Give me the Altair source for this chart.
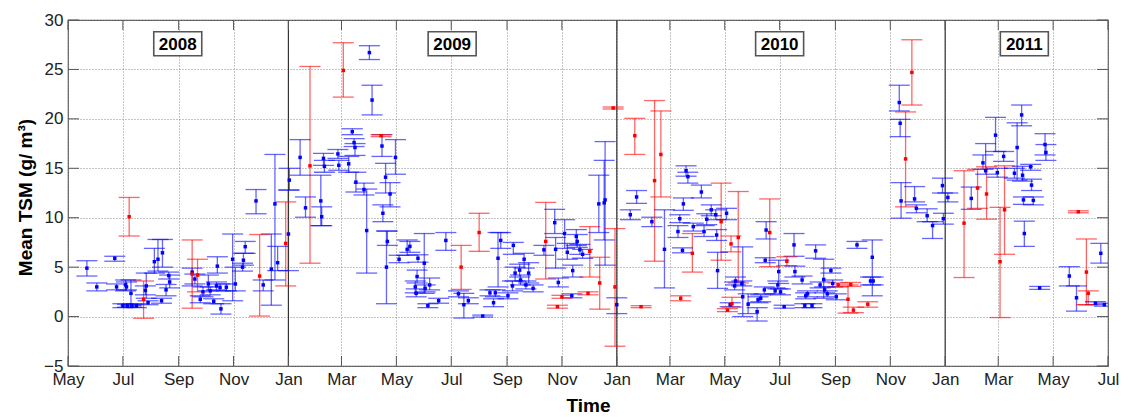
import altair as alt
import pandas as pd

# Blue series: sampling date, mean TSM (g/m3) and lower / upper error limits
blue_dates = [
    "2008-05-22", "2008-06-02", "2008-06-22", "2008-06-24", "2008-07-01", "2008-07-04",
    "2008-07-05", "2008-07-06", "2008-07-10", "2008-07-11", "2008-07-16", "2008-07-26",
    "2008-07-27", "2008-07-29", "2008-08-05", "2008-08-09", "2008-08-13", "2008-08-14",
    "2008-08-18", "2008-08-21", "2008-08-22", "2008-09-16", "2008-09-19", "2008-09-25",
    "2008-09-28", "2008-10-04", "2008-10-06", "2008-10-10", "2008-10-13", "2008-10-14",
    "2008-10-17", "2008-10-18", "2008-10-24", "2008-10-31", "2008-11-03", "2008-11-11",
    "2008-11-12", "2008-11-14", "2008-11-26", "2008-12-04", "2008-12-13", "2008-12-17",
    "2008-12-20", "2009-01-01", "2009-01-02", "2009-01-14", "2009-01-20", "2009-02-06",
    "2009-02-07", "2009-02-09", "2009-02-10", "2009-02-25", "2009-02-26", "2009-03-09",
    "2009-03-13", "2009-03-15", "2009-03-16", "2009-03-17", "2009-03-26", "2009-03-29",
    "2009-04-01", "2009-04-04", "2009-04-15", "2009-04-16", "2009-04-19", "2009-04-20",
    "2009-04-21", "2009-04-24", "2009-04-30", "2009-05-04", "2009-05-13", "2009-05-16",
    "2009-05-22", "2009-05-23", "2009-05-24", "2009-05-25", "2009-06-01", "2009-06-02",
    "2009-06-05", "2009-06-07", "2009-06-17", "2009-06-25", "2009-07-09", "2009-07-15",
    "2009-07-20", "2009-08-05", "2009-08-13", "2009-08-17", "2009-08-19", "2009-08-22",
    "2009-08-25", "2009-09-02", "2009-09-07", "2009-09-08", "2009-09-10", "2009-09-15",
    "2009-09-16", "2009-09-20", "2009-09-22", "2009-09-25", "2009-09-30", "2009-10-12",
    "2009-10-24", "2009-10-25", "2009-10-28", "2009-11-04", "2009-11-07", "2009-11-12",
    "2009-11-13", "2009-11-17", "2009-11-18", "2009-11-21", "2009-11-24", "2009-12-12",
    "2009-12-18", "2009-12-19", "2010-01-01", "2010-01-16", "2010-01-23", "2010-02-09",
    "2010-02-23", "2010-03-10", "2010-03-12", "2010-03-15", "2010-03-16", "2010-03-19",
    "2010-03-21", "2010-03-27", "2010-04-05", "2010-04-08", "2010-04-11", "2010-04-16",
    "2010-04-21", "2010-04-22", "2010-04-23", "2010-05-03", "2010-05-07", "2010-05-12",
    "2010-05-13", "2010-05-20", "2010-05-21", "2010-05-27", "2010-06-06", "2010-06-07",
    "2010-06-10", "2010-06-14", "2010-06-15", "2010-06-16", "2010-06-26", "2010-06-29",
    "2010-06-30", "2010-07-02", "2010-07-06", "2010-07-17", "2010-07-18", "2010-07-26",
    "2010-07-29", "2010-07-30", "2010-08-01", "2010-08-06", "2010-08-10", "2010-08-15",
    "2010-08-19", "2010-08-20", "2010-08-23", "2010-08-27", "2010-08-29", "2010-09-02",
    "2010-09-25", "2010-10-10", "2010-10-12", "2010-10-13", "2010-11-11", "2010-11-12",
    "2010-11-13", "2010-11-28", "2010-11-30", "2010-12-12", "2010-12-18", "2010-12-29",
    "2010-12-30", "2011-01-04", "2011-01-30", "2011-02-12", "2011-02-15", "2011-02-26",
    "2011-02-28", "2011-03-07", "2011-03-19", "2011-03-22", "2011-03-27", "2011-03-28",
    "2011-03-29", "2011-03-30", "2011-04-06", "2011-04-07", "2011-04-09", "2011-04-16",
    "2011-04-22", "2011-04-23", "2011-05-19", "2011-05-27", "2011-06-17", "2011-06-23",
    "2011-06-27",
]
blue_tsm = [
    4.9, 3.0, 5.9, 3.0, 1.1, 3.2,
    3.0, 1.1, 2.35, 1.1, 1.1, 2.65,
    3.1, 1.4, 5.55, 5.8, 1.6, 6.45,
    2.7, 4.15, 3.5, 4.5, 3.8, 1.75,
    2.5, 3.3, 2.6, 1.55, 3.1, 5.1,
    2.95, 0.78, 2.97, 5.8, 3.3, 5.0,
    5.7, 7.07, 11.7, 3.2, 4.8, 11.4,
    5.45, 8.35, 13.8, 16.1, 11.0, 11.7,
    10.1, 16.0, 15.2, 16.45, 15.3, 15.45,
    18.7, 17.6, 17.1, 13.6, 12.85, 8.7,
    26.7, 21.9, 17.25, 10.45, 14.1, 5.0,
    7.6, 12.4, 16.1, 5.8, 6.8, 7.1,
    3.0, 2.35, 4.05, 5.9, 5.4, 2.85,
    1.1, 3.2, 1.6, 7.7, 2.3, 1.2,
    1.6, 0.05, 2.4, 1.4, 2.4, 5.9,
    7.7, 2.1, 3.1, 7.2, 4.4, 4.7,
    3.7, 5.8, 3.2, 4.4, 2.85, 6.75,
    9.5, 6.8, 3.45, 8.4, 6.5, 2.1,
    4.65, 8.1, 7.6, 6.75, 6.3, 11.4,
    11.5, 11.8, 1.2, 10.3, 12.1, 9.6,
    6.8, 8.6, 9.9, 6.7, 11.4, 14.75,
    14.15, 9.1, 12.6, 8.6, 9.85, 10.8,
    10.3, 8.25, 4.65, 10.45, 1.2, 3.1,
    3.6, 3.35, 2.0, 1.25, 0.5, 1.7,
    1.85, 2.7, 5.7, 8.75, 2.6, 3.2,
    4.55, 2.5, 1.0, 7.25, 4.55, 3.7,
    1.1, 2.1, 2.3, 1.1, 6.65, 3.2,
    3.75, 2.7, 2.3, 4.65, 3.35, 2.0,
    7.25, 3.6, 6.0, 3.6, 21.65, 19.55,
    11.7, 11.9, 10.95, 10.2, 9.2, 13.25,
    9.9, 12.05, 11.95, 15.55, 14.75, 18.35,
    14.55, 16.2, 14.5, 17.1, 20.4, 14.3,
    11.8, 8.4, 15.15, 13.3, 11.75, 2.9,
    17.4, 16.6, 4.1, 1.9, 1.35, 6.4,
    1.2,
]
blue_lo = [
    4.1, 2.6, 5.6, 2.7, 0.9, 2.6,
    2.7, 0.95, 1.1, 0.95, 0.9, 2.2,
    1.85, 1.2, 4.4, 4.6, 1.35, 5.0,
    2.1, 3.8, 2.9, 3.1, 3.3, 1.4,
    2.0, 2.6, 2.2, 1.3, 2.7, 4.4,
    2.6, 0.25, 2.6, 1.6, 2.6, 4.6,
    5.2, 6.4, 10.4, 2.6, 1.15, 3.7,
    4.65, 4.65, 12.8, 14.3, 10.05, 9.2,
    9.2, 15.3, 14.6, 16.0, 14.8, 14.6,
    18.4, 17.2, 16.3, 12.6, 12.3, 4.4,
    26.0, 20.4, 16.2, 9.6, 12.5, 1.3,
    7.2, 11.1, 14.4, 5.45, 6.2, 6.5,
    2.4, 2.0, 3.4, 5.5, 2.35, 2.5,
    0.9, 2.7, 1.35, 6.7, 2.0, -0.15,
    1.3, -0.05, 2.1, 1.0, 2.0, 3.0,
    6.9, 1.8, 2.6, 6.3, 3.6, 4.0,
    3.2, 4.9, 2.8, 3.4, 2.5, 6.2,
    8.4, 4.9, 3.0, 6.9, 5.8, 1.9,
    4.0, 7.2, 7.0, 6.3, 5.9, 8.5,
    7.75, 5.2, 0.3, 9.8, 11.45, 9.1,
    2.9, 8.0, 9.5, 6.45, 10.75, 14.2,
    13.5, 8.65, 12.0, 8.1, 9.3, 10.2,
    9.8, 7.7, 2.85, 9.8, 1.0, 2.7,
    3.2, 3.1, 0.0, 0.3, -0.45, 1.4,
    1.5, 2.3, 5.45, 7.85, 2.3, 2.8,
    3.35, 2.2, 0.85, 6.1, 4.0, 3.3,
    0.9, 1.8, 2.0, 0.9, 5.9, 2.9,
    1.85, 2.4, 2.0, 4.4, 3.0, 1.7,
    6.9, 3.2, 2.1, 3.2, 20.8, 18.2,
    9.95, 11.6, 10.5, 9.6, 7.9, 12.5,
    9.35, 11.6, 10.85, 14.9, 14.4, 16.7,
    14.1, 15.7, 14.0, 13.8, 19.3, 13.7,
    11.35, 7.1, 14.8, 12.75, 11.3, 2.75,
    16.35, 15.8, 3.1, 0.55, 1.2, 5.4,
    1.05,
]
blue_hi = [
    5.65, 3.4, 6.1, 3.3, 1.3, 3.7,
    3.5, 1.25, 3.7, 1.25, 1.3, 3.1,
    4.4, 1.6, 6.9, 7.8, 1.85, 7.8,
    3.25, 4.5, 4.2, 4.9, 4.3, 2.1,
    3.0, 4.2, 3.0, 1.8, 3.5, 6.05,
    3.3, 1.3, 3.3, 8.35, 5.0, 5.4,
    6.4, 7.6, 12.85, 3.7, 8.35, 16.4,
    7.1, 12.8, 15.0, 17.9, 12.1, 14.3,
    11.1, 16.5, 15.8, 16.9, 15.8, 16.2,
    19.0, 18.0, 17.5, 14.6, 13.5, 12.9,
    27.4, 23.4, 18.4, 11.3, 15.5, 8.65,
    8.65, 13.55, 17.9, 6.2, 7.75, 7.6,
    3.6, 2.8, 4.7, 6.25, 8.4, 3.2,
    1.3, 3.9, 1.85, 8.5, 2.6, 2.35,
    1.9, 0.15, 2.7, 1.8, 2.7, 8.5,
    8.5, 2.4, 3.6, 7.5, 5.0, 5.3,
    4.2, 6.4, 3.6, 5.45, 3.2, 7.2,
    10.85, 8.0, 3.9, 9.8, 7.4, 2.3,
    5.2, 8.8, 8.3, 7.3, 6.8, 14.3,
    15.8, 17.7, 1.9, 10.8, 12.75, 10.05,
    10.8, 9.2, 10.3, 6.95, 12.0, 15.25,
    14.6, 9.45, 13.3, 9.2, 10.4, 11.3,
    10.8, 8.8, 6.5, 10.95, 1.4, 3.5,
    4.0, 3.6, 7.05, 2.3, 0.9, 2.0,
    2.2, 3.0, 5.95, 9.6, 2.9, 3.6,
    5.7, 2.8, 1.15, 8.4, 5.1, 4.1,
    1.3, 2.4, 2.6, 1.3, 7.25, 3.5,
    5.8, 3.0, 2.6, 4.9, 3.7, 2.3,
    7.6, 4.0, 7.75, 4.0, 23.4, 19.95,
    13.55, 13.15, 11.3, 10.9, 9.6, 14.0,
    10.45, 12.5, 13.1, 16.35, 17.5, 20.15,
    15.0, 16.7, 15.0, 19.6, 21.4, 15.2,
    12.1, 9.65, 15.4, 13.9, 12.1, 3.05,
    18.5, 17.4, 5.05, 3.1, 1.5, 7.4,
    1.35,
]

# Red series
red_dates = [
    "2008-07-08", "2008-07-24", "2008-09-16", "2008-09-22", "2008-11-30", "2008-12-29",
    "2009-01-25", "2009-03-03", "2009-04-14", "2009-07-12", "2009-08-01", "2009-10-14",
    "2009-10-27", "2009-11-01", "2009-11-30", "2009-12-02", "2009-12-13", "2009-12-28",
    "2009-12-30", "2010-01-21", "2010-01-28", "2010-02-12", "2010-02-19", "2010-03-13",
    "2010-03-26", "2010-04-27", "2010-05-04", "2010-05-08", "2010-05-09", "2010-05-16",
    "2010-06-20", "2010-07-09", "2010-09-04", "2010-09-15", "2010-09-18", "2010-09-21",
    "2010-10-07", "2010-11-18", "2010-11-25", "2011-01-22", "2011-02-06", "2011-02-16",
    "2011-03-03", "2011-03-08", "2011-05-29", "2011-06-07", "2011-06-09",
]
red_tsm = [
    10.1, 1.75, 4.3, 4.2, 4.1, 7.4,
    15.25, 24.9, 18.3, 5.0, 8.5, 7.6,
    1.0, 2.0, 2.35, 6.6, 3.4, 21.1,
    3.0, 18.3, 1.0, 13.75, 16.4, 1.85,
    6.4, 9.6, 0.65, 7.35, 1.3, 8.0,
    8.5, 5.6, 3.2, 1.75, 3.25, 0.65,
    1.25, 15.95, 24.7, 9.45, 13.0, 12.4,
    5.55, 10.8, 10.6, 4.5, 2.35,
]
red_lo = [
    8.15, -0.17, 0.85, 2.5, 0.05, 3.1,
    5.4, 22.2, 18.2, 2.75, 6.6, 3.8,
    0.85, 1.85, 2.2, 4.0, 0.75, 21.0,
    -3.0, 16.4, 0.9, 5.6, 12.1, 1.6,
    4.5, 5.7, 0.5, 6.55, 0.95, 3.4,
    5.05, 5.15, 3.0, 0.35, 3.05, 0.4,
    0.95, 11.1, 21.4, 3.95, 10.95, 9.85,
    -0.1, 6.3, 10.5, 1.2, 1.2,
]
red_hi = [
    12.05, 3.6, 7.75, 5.8, 8.3, 11.6,
    25.3, 27.7, 18.4, 7.2, 10.45, 11.55,
    1.15, 2.15, 2.5, 9.1, 6.0, 21.2,
    8.9, 20.05, 1.1, 21.85, 20.8, 2.1,
    8.4, 13.5, 0.8, 8.15, 1.95, 12.65,
    11.9, 6.05, 3.4, 3.2, 3.45, 0.95,
    1.5, 20.7, 28.0, 14.75, 14.9, 15.15,
    11.05, 15.25, 10.7, 7.85, 2.6,
]

month_ticks = [
    "2008-05-01", "2008-07-01", "2008-09-01", "2008-11-01", "2009-01-01", "2009-03-01",
    "2009-05-01", "2009-07-01", "2009-09-01", "2009-11-01", "2010-01-01", "2010-03-01",
    "2010-05-01", "2010-07-01", "2010-09-01", "2010-11-01", "2011-01-01", "2011-03-01",
    "2011-05-01", "2011-07-01",
]
y_ticks = [-5, 0, 5, 10, 15, 20, 25, 30]
year_breaks = ["2009-01-01", "2010-01-01", "2011-01-01"]
year_labels = ["2008", "2009", "2010", "2011"]
year_label_dates = ["2008-08-31", "2009-07-02", "2010-07-01", "2011-03-30"]
year_label_level = [27.6, 27.6, 27.6, 27.6]

W, H = 1040, 346
FONT = "Liberation Sans"


def dt(s):
    y, m, d = (int(p) for p in s.split("-"))
    return alt.DateTime(year=y, month=m, date=d, utc=True)


obs = pd.concat([
    pd.DataFrame({"date": blue_dates, "tsm": blue_tsm, "lo": blue_lo, "hi": blue_hi, "group": "blue"}),
    pd.DataFrame({"date": red_dates, "tsm": red_tsm, "lo": red_lo, "hi": red_hi, "group": "red"}),
], ignore_index=True)

xscale = alt.Scale(type="utc", domain=[dt(month_ticks[0]), dt(month_ticks[-1])])
yscale = alt.Scale(domain=[-5, 30], nice=False, zero=False)
cscale = alt.Scale(domain=["blue", "red"], range=["#0000ff", "#ff0000"])

xaxis = alt.Axis(
    values=[dt(s) for s in month_ticks], labelExpr="utcFormat(datum.value, '%b')",
    ticks=False, domain=False, labelPadding=5, labelOverlap=False, labelFlush=False,
    grid=True, gridDash=[1, 2], gridColor="#8a8a8a", gridWidth=1,
    title="Time", titleFontSize=19, titleFontWeight="bold", titleY=30,
)
yaxis = alt.Axis(
    values=y_ticks, ticks=False, domain=False, labelPadding=5,
    grid=True, gridDash=[1, 2], gridColor="#8a8a8a", gridWidth=1,
    title="Mean TSM (g/ m³)", titleFontSize=19, titleFontWeight="bold",
    titleX=-33, titleY=177,
)

color = alt.Color("group:N", scale=cscale, legend=None)
x_enc = alt.X("date:T", scale=xscale, axis=xaxis)


def y_enc(field):
    return alt.Y(field, scale=yscale, axis=yaxis)


base = alt.Chart(obs)

bars = base.mark_rule(strokeWidth=1.3, opacity=0.6, clip=True).encode(
    x=x_enc, y=y_enc("lo:Q"), y2="hi:Q", color=color
)
caps_lo = base.mark_tick(orient="horizontal", size=21, thickness=1.3, opacity=0.6, clip=True).encode(
    x=x_enc, y=y_enc("lo:Q"), color=color
)
caps_hi = base.mark_tick(orient="horizontal", size=21, thickness=1.3, opacity=0.6, clip=True).encode(
    x=x_enc, y=y_enc("hi:Q"), color=color
)
points = base.mark_square(size=12, opacity=1).encode(
    x=x_enc, y=y_enc("tsm:Q"), color=color
)

breaks = alt.Chart(pd.DataFrame({"date": year_breaks})).mark_rule(color="#333333", strokeWidth=1.2).encode(
    x=x_enc, y=alt.value(0), y2=alt.value(H)
)

# inward-pointing ticks on all four sides
xt = alt.Chart(pd.DataFrame({"date": month_ticks}))
yt = alt.Chart(pd.DataFrame({"v": y_ticks}))
tick_col = "#555555"
ticks_bottom = xt.mark_rule(color=tick_col).encode(x=x_enc, y=alt.value(H), y2=alt.value(H - 10))
ticks_top = xt.mark_rule(color=tick_col).encode(x=x_enc, y=alt.value(0), y2=alt.value(10))
ticks_left = yt.mark_rule(color=tick_col).encode(y=y_enc("v:Q"), x=alt.value(0), x2=alt.value(11))
ticks_right = yt.mark_rule(color=tick_col).encode(y=y_enc("v:Q"), x=alt.value(W), x2=alt.value(W - 11))

years = pd.DataFrame({"date": year_label_dates, "level": year_label_level, "label": year_labels})
boxes = alt.Chart(years).mark_point(
    shape="M-1,-0.5L1,-0.5L1,0.5L-1,0.5Z", size=48 * 48, filled=True,
    fill="white", fillOpacity=1, stroke="#555555", strokeWidth=1.6, strokeOpacity=1, opacity=1,
).encode(x=x_enc, y=y_enc("level:Q"))
year_text = alt.Chart(years).mark_text(
    font=FONT, fontSize=17, fontWeight="bold", color="black", baseline="middle", dy=1
).encode(x=x_enc, y=y_enc("level:Q"), text="label:N")

chart = alt.layer(
    bars, breaks, caps_lo, caps_hi, points,
    ticks_bottom, ticks_top, ticks_left, ticks_right,
    boxes, year_text,
).properties(
    width=W, height=H,
    padding={"left": 68, "top": 20, "right": 20, "bottom": 51},
    autosize=alt.AutoSizeParams(type="none"),
    background="white",
).configure_axis(
    labelFont=FONT, labelFontSize=17, labelColor="#222222",
    titleFont=FONT, titleColor="#000000",
).configure_view(
    stroke="#555555", strokeWidth=1.2,
)

chart.save("out.html", embed_options={"renderer": "svg", "actions": False})
